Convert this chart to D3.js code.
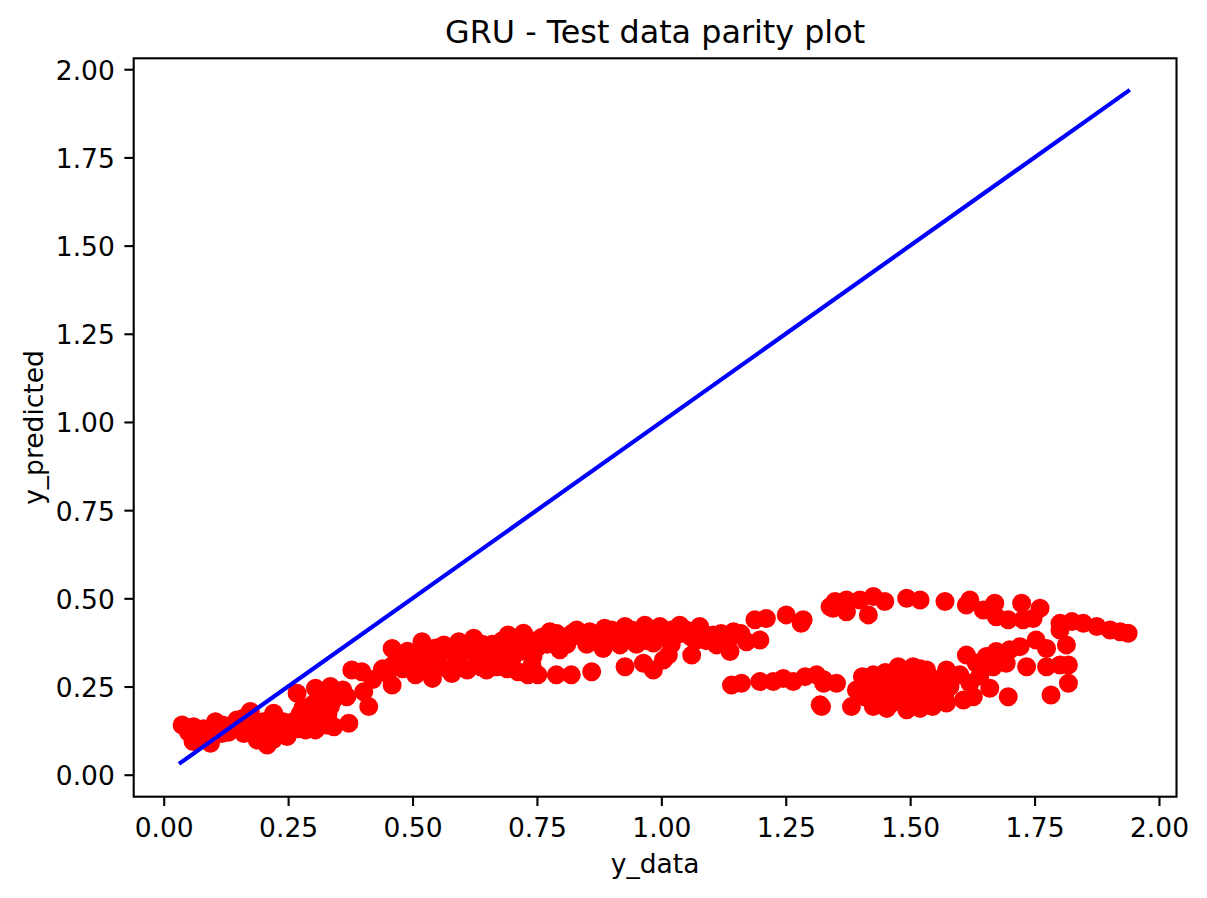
<!DOCTYPE html>
<html>
<head>
<meta charset="utf-8">
<script src="https://cdn.jsdelivr.net/npm/d3@7"></script>
<style>
  html, body { margin: 0; padding: 0; background: #fff; }
  svg { display: block; font-family: "DejaVu Sans", sans-serif; }
</style>
</head>
<body>
<svg id="chart" width="1207" height="898"></svg>
<script>
// ---- data ----
const title = "GRU - Test data parity plot";
const xLabel = "y_data";
const yLabel = "y_predicted";
const xTicks = [0, 0.25, 0.5, 0.75, 1.0, 1.25, 1.5, 1.75, 2.0];
const yTicks = [0, 0.25, 0.5, 0.75, 1.0, 1.25, 1.5, 1.75, 2.0];
const parityLine = [0.034, 1.938];

const yData = [
  0.037,0.060,0.059,0.094,0.104,0.117,0.147,0.174,0.161,0.188,0.208,0.221,0.235,0.248,0.268,0.275,0.285,0.305,0.312,0.305,
  0.335,0.342,0.335,0.368,0.372,0.378,0.398,0.412,0.402,0.439,0.459,0.459,0.449,0.482,0.519,0.506,0.540,0.543,0.563,0.579,
  0.593,0.623,0.610,0.637,
  0.649,0.669,0.692,0.723,0.712,0.732,0.752,0.742,0.776,0.789,0.819,0.860,0.830,0.796,0.856,0.886,0.883,0.927,0.927,0.917,
  0.967,0.964,0.984,1.004,1.014,0.997,0.984,1.037,1.061,1.077,1.071,1.104,1.111,1.138,1.145,1.171,1.198,1.188,1.211,1.251,
  1.281,1.285,1.141,1.161,1.198,1.225,1.245,1.265,1.289,1.312,1.326,1.319,1.339,
  1.349,1.345,1.372,1.372,1.399,1.426,1.416,1.449,1.493,1.520,1.570,1.613,1.620,1.647,1.670,1.673,1.697,1.724,1.727,1.761,
  1.747,1.801,1.825,1.848,1.875,1.902,1.922,1.938,1.801,1.814,1.753,1.774,
  1.613,1.653,1.673,1.700,1.721,1.633,1.667,1.693,1.734,1.774,1.801,1.818,1.818,1.783,1.697,1.660,1.627,1.607,1.573,1.600,
  1.533,1.506,1.476,1.404,1.426,1.446,1.392,1.382,1.426,1.453,1.493,1.520,1.545,1.573,1.352,1.326,1.322,1.486,1.520,1.553,
  1.453,1.419,
  0.05,0.07,0.08,0.09,0.11,0.12,0.13,0.14,0.15,0.16,0.17,0.18,0.19,0.20,0.21,0.22,0.23,0.24,0.25,0.26,
  0.27,0.28,0.29,0.30,0.31,0.32,0.33,0.34,0.32,0.30,0.28,0.26,0.35,0.36,0.25,0.22,0.29,0.33,
  0.42,0.44,0.47,0.49,0.50,0.52,0.53,0.55,0.56,0.58,0.60,0.61,0.62,0.64,0.55,0.57,0.52,0.46,
  0.66,0.68,0.70,0.72,0.74,0.76,0.78,0.80,0.82,0.84,0.86,0.88,0.90,0.92,0.94,0.96,0.98,1.00,1.02,1.04,
  1.06,1.08,1.10,1.12,1.14,1.16,0.68,0.70,0.72,0.66,0.75,0.88,0.95,1.02,0.74,0.69,
  1.44,1.46,1.48,1.49,1.50,1.51,1.52,1.53,1.54,1.55,1.56,1.57,1.58,1.46,1.43,1.47,1.50,1.41,1.45,1.62,
  1.64,1.59,
  0.48,0.51,0.54,0.59,0.63,0.65,0.67,0.71,0.73,0.77,0.79,0.81,0.85,0.89,0.91,0.93,0.97,0.99,1.01,1.05,
  1.09,1.13,
  1.42,1.44,1.47,1.49,1.51,1.53,1.55,1.48,1.52,1.46,
  0.27,0.31,0.24,0.30,0.33
];
const yPred = [
  0.141,0.136,0.094,0.089,0.150,0.117,0.155,0.179,0.117,0.098,0.084,0.174,0.136,0.108,0.231,0.174,0.127,0.245,0.193,0.127,
  0.250,0.136,0.193,0.221,0.146,0.297,0.292,0.193,0.235,0.297,0.358,0.254,0.287,0.339,0.377,0.283,0.273,0.358,0.368,0.287,
  0.377,0.387,0.297,0.306,
  0.297,0.306,0.396,0.401,0.292,0.283,0.283,0.335,0.405,0.283,0.283,0.292,0.410,0.354,0.405,0.415,0.358,0.420,0.306,0.368,
  0.424,0.316,0.297,0.325,0.339,0.420,0.373,0.424,0.339,0.420,0.382,0.396,0.368,0.349,0.405,0.377,0.382,0.439,0.443,0.453,
  0.429,0.439,0.254,0.259,0.264,0.264,0.273,0.264,0.278,0.283,0.259,0.198,0.476,
  0.491,0.472,0.495,0.462,0.495,0.505,0.453,0.491,0.500,0.495,0.491,0.481,0.495,0.467,0.486,0.448,0.439,0.486,0.439,0.472,
  0.443,0.429,0.434,0.429,0.420,0.410,0.405,0.401,0.410,0.368,0.382,0.358,
  0.339,0.335,0.349,0.354,0.363,0.316,0.306,0.316,0.306,0.306,0.311,0.311,0.259,0.226,0.221,0.245,0.221,0.212,0.297,0.283,
  0.297,0.306,0.306,0.278,0.283,0.273,0.240,0.193,0.193,0.188,0.184,0.188,0.193,0.203,0.259,0.269,0.193,0.240,0.250,0.231,
  0.240,0.231,
  0.12,0.11,0.13,0.10,0.13,0.14,0.12,0.13,0.14,0.16,0.12,0.14,0.12,0.15,0.11,0.14,0.13,0.15,0.14,0.13,
  0.16,0.14,0.17,0.15,0.16,0.18,0.17,0.21,0.22,0.20,0.19,0.15,0.23,0.24,0.12,0.10,0.13,0.14,
  0.27,0.30,0.33,0.35,0.33,0.36,0.34,0.36,0.35,0.36,0.37,0.35,0.36,0.37,0.32,0.30,0.30,0.31,
  0.37,0.38,0.37,0.39,0.38,0.39,0.38,0.39,0.40,0.39,0.40,0.39,0.41,0.40,0.41,0.40,0.41,0.40,0.41,0.40,
  0.39,0.40,0.39,0.40,0.39,0.40,0.34,0.33,0.35,0.33,0.36,0.37,0.37,0.37,0.31,0.30,
  0.22,0.25,0.21,0.27,0.23,0.20,0.26,0.22,0.24,0.21,0.26,0.23,0.25,0.20,0.26,0.28,0.29,0.22,0.29,0.26,
  0.28,0.28,
  0.30,0.31,0.35,0.33,0.33,0.35,0.36,0.37,0.36,0.37,0.40,0.37,0.37,0.40,0.38,0.39,0.38,0.39,0.39,0.41,
  0.38,0.38,
  0.25,0.27,0.24,0.22,0.28,0.27,0.27,0.30,0.30,0.23,
  0.13,0.14,0.12,0.18,0.20
];

// ---- layout ----
const svg = d3.select("#chart");
const plotL = 133.7, plotR = 1176.5, plotT = 58.3, plotB = 796.7;
const x = d3.scaleLinear().domain([-0.0603, 2.0352]).range([plotL, plotR]);
const y = d3.scaleLinear().domain([-0.0624, 2.031]).range([plotB, plotT]);
const fs = 26.5;

// points
svg.append("g").selectAll("circle")
  .data(yData.map((d, i) => [d, yPred[i]]))
  .join("circle")
  .attr("cx", d => x(d[0]))
  .attr("cy", d => y(d[1]))
  .attr("r", 8.2)
  .attr("fill", "#ff0000")
  .attr("stroke", "#ff0000")
  .attr("stroke-width", 2.6);

// parity line
svg.append("line")
  .attr("x1", x(parityLine[0])).attr("y1", y(parityLine[0]))
  .attr("x2", x(parityLine[1])).attr("y2", y(parityLine[1]))
  .attr("stroke", "#0000ff").attr("stroke-width", 4.2).attr("stroke-linecap", "square");

// axes
const fmt = d3.format(".2f");
const gx = svg.append("g").attr("transform", `translate(0,${plotB})`)
  .call(d3.axisBottom(x).tickValues(xTicks).tickFormat(fmt).tickSize(9.3).tickPadding(9.3));
const gy = svg.append("g").attr("transform", `translate(${plotL},0)`)
  .call(d3.axisLeft(y).tickValues(yTicks).tickFormat(fmt).tickSize(9.3).tickPadding(9.3));
[gx, gy].forEach(g => {
  g.select(".domain").remove();
  g.selectAll(".tick line").attr("stroke", "#000").attr("stroke-width", 2.1);
  g.selectAll(".tick text").attr("fill", "#000")
    .style("font-family", "'DejaVu Sans', sans-serif").style("font-size", fs + "px");
});
gx.selectAll(".tick text").attr("dy", null).attr("y", 836.6 - plotB);
gy.selectAll(".tick text").attr("dy", null).attr("y", 10).attr("x", -18.9);

// spines
svg.append("rect")
  .attr("x", plotL).attr("y", plotT)
  .attr("width", plotR - plotL).attr("height", plotB - plotT)
  .attr("fill", "none").attr("stroke", "#000").attr("stroke-width", 2.1);

// title & labels
svg.append("text").attr("x", (plotL + plotR) / 2).attr("y", 42.7)
  .attr("text-anchor", "middle").style("font-size", (fs * 1.2) + "px").text(title);
svg.append("text").attr("x", (plotL + plotR) / 2).attr("y", 873)
  .attr("text-anchor", "middle").style("font-size", fs + "px").text(xLabel);
svg.append("text").attr("transform", `translate(43,${(plotT + plotB) / 2}) rotate(-90)`)
  .attr("text-anchor", "middle").style("font-size", fs + "px").text(yLabel);
</script>
</body>
</html>
